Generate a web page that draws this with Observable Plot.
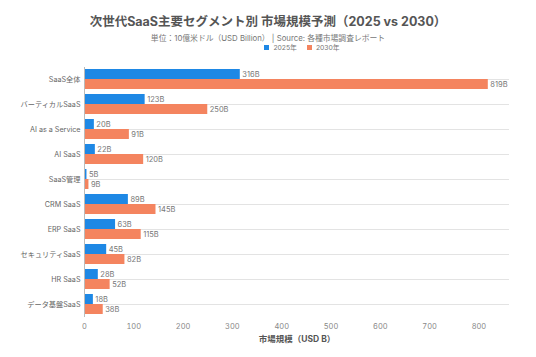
<!DOCTYPE html>
<html>
<head>
<meta charset="utf-8">
<script src="https://cdn.jsdelivr.net/npm/d3@7"></script>
<script src="https://cdn.jsdelivr.net/npm/@observablehq/plot@0.6"></script>
<style>
  body { margin: 0; background: #fff; font-family: Inter, "Noto Sans CJK JP", sans-serif; }
  #wrap { position: relative; width: 536px; height: 357px; }
  #title { position: absolute; top: 11px; left: 0; width: 536px; text-align: center; font-size: 12.5px; font-weight: 700; color: #555; }
  #sub { position: absolute; top: 32px; left: 0; width: 536px; text-align: center; font-size: 7.8px; color: #777; }
  #legend { position: absolute; top: 43px; left: 34px; width: 536px; text-align: center; font-size: 6.8px; color: #777; line-height: 9px; }
  #legend span.sw { display: inline-block; width: 5px; height: 5px; margin-right: 4px; vertical-align: 0px; }
  #legend span.it { margin: 0 5px; }
  #chart { position: absolute; top: 0; left: 0; }
</style>
</head>
<body>
<div id="wrap">
  <div id="chart"></div>
  <div id="title">次世代SaaS主要セグメント別 市場規模予測（2025 vs 2030）</div>
  <div id="sub">単位：10億米ドル（USD Billion） | Source: 各種市場調査レポート</div>
  <div id="legend"></div>
</div>
<script>
const categories = ["SaaS全体", "バーティカルSaaS", "AI as a Service", "AI SaaS", "SaaS管理", "CRM SaaS", "ERP SaaS", "セキュリティSaaS", "HR SaaS", "データ基盤SaaS"];
const values2025 = [316, 123, 20, 22, 5, 89, 63, 45, 28, 18];
const values2030 = [819, 250, 91, 120, 9, 145, 115, 82, 52, 38];
const seriesNames = ["2025年", "2030年"];
const seriesColors = ["#1E88E5", "#F4845F"];
const xTicks = [0, 100, 200, 300, 400, 500, 600, 700, 800];

const rows = categories.map((c, i) => ({cat: c, v25: values2025[i], v30: values2030[i]}));

const legend = document.getElementById("legend");
seriesNames.forEach((n, i) => {
  const s = document.createElement("span");
  s.className = "it";
  s.innerHTML = `<span class="sw" style="background:${seriesColors[i]}"></span>${n}`;
  legend.appendChild(s);
});

const plot = Plot.plot({
  width: 536,
  height: 357,
  marginTop: 67,
  marginBottom: 40,
  marginLeft: 84,
  marginRight: 27,
  style: {fontFamily: 'Inter, "Noto Sans CJK JP", sans-serif', fontSize: "7.5px", color: "#777", background: "transparent"},
  x: {domain: [0, 862], ticks: xTicks, tickSize: 0, tickPadding: 6, label: null},
  y: {domain: categories, paddingInner: 0.2, paddingOuter: 0.1, tickSize: 0, tickPadding: 4, label: null},
  marks: [
    Plot.gridX(xTicks, {stroke: "#e3e3e3", strokeOpacity: 1, y1: 67, y2: 319}),
    Plot.gridY(categories, {stroke: "#e3e3e3", strokeOpacity: 1}),
    Plot.axisX({ticks: xTicks, tickSize: 0, tickPadding: 6, fill: "#888", fontSize: 7.5, label: null}),
    Plot.axisY({tickSize: 0, tickPadding: 4, fill: "#666", fontSize: 7.2, label: null}),
    Plot.barX(rows, {x: "v25", y: "cat", fill: seriesColors[0], insetBottom: 10}),
    Plot.barX(rows, {x: "v30", y: "cat", fill: seriesColors[1], insetTop: 10}),
    Plot.ruleX([0], {stroke: "#bbb", strokeWidth: 1}),
    Plot.text(rows, {x: "v25", y: "cat", text: d => d.v25 + "B", dx: 2, dy: -5, textAnchor: "start", fill: "#777", fontSize: 7.5}),
    Plot.text(rows, {x: "v30", y: "cat", text: d => d.v30 + "B", dx: 2, dy: 5, textAnchor: "start", fill: "#777", fontSize: 7.5}),
    Plot.text(["市場規模（USD B）"], {frameAnchor: "bottom", dy: 24, fill: "#555", fontSize: 8.5, fontWeight: 700, text: d => d})
  ]
});
document.getElementById("chart").appendChild(plot);
</script>
</body>
</html>
